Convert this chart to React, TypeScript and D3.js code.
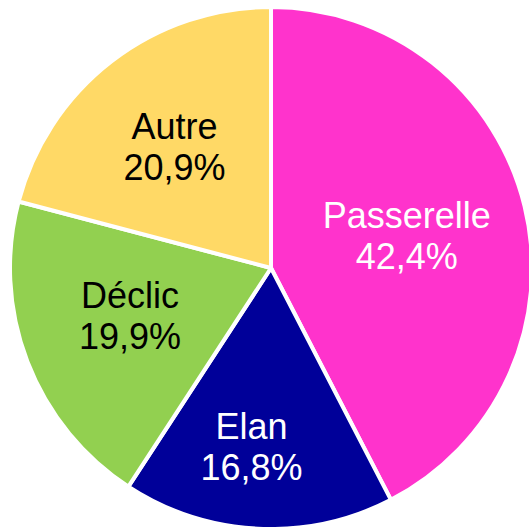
import React from "react";
import * as d3 from "d3";

const categories = ["Passerelle", "Elan", "Déclic", "Autre"];
const values = [42.4, 16.8, 19.9, 20.9];
const labelTexts = ["42,4%", "16,8%", "19,9%", "20,9%"];

const colors = ["#FF33CC", "#000099", "#92D050", "#FFD966"];
const textColors = ["#FFFFFF", "#FFFFFF", "#000000", "#000000"];
const labelNudge: [number, number][] = [
  [-10, 3],
  [-12, 29],
  [-1, -6],
  [-5, -3],
];

const W = 529;
const H = 527;
const CX = 271;
const CY = 268;
const R = 261;
const LR = 150;
const FONT = 36;

export default function App() {
  const pie = d3
    .pie<number>()
    .value((d) => d)
    .sort(null);
  const arcs = pie(values);
  const arc = d3.arc<d3.PieArcDatum<number>>().innerRadius(0).outerRadius(R);
  const labelArc = d3
    .arc<d3.PieArcDatum<number>>()
    .innerRadius(LR)
    .outerRadius(LR);

  return (
    <svg
      width={W}
      height={H}
      style={{ position: "absolute", left: 0, top: 0, background: "#fff" }}
    >
      <g transform={`translate(${CX},${CY})`}>
        {arcs.map((a, i) => (
          <path
            key={categories[i]}
            d={arc(a) || ""}
            fill={colors[i]}
            stroke="#fff"
            strokeWidth={4}
            strokeLinejoin="round"
          />
        ))}
        {arcs.map((a, i) => {
          const [x, y] = labelArc.centroid(a);
          const mx = x + labelNudge[i][0];
          const my = y + labelNudge[i][1];
          return (
            <text
              key={"t" + i}
              x={mx}
              textAnchor="middle"
              fill={textColors[i]}
              style={{ fontFamily: "'Liberation Sans', Arial, sans-serif", fontSize: FONT }}
            >
              <tspan x={mx} y={my - 7.5}>
                {categories[i]}
              </tspan>
              <tspan x={mx} y={my + 33.5}>
                {labelTexts[i]}
              </tspan>
            </text>
          );
        })}
      </g>
    </svg>
  );
}
